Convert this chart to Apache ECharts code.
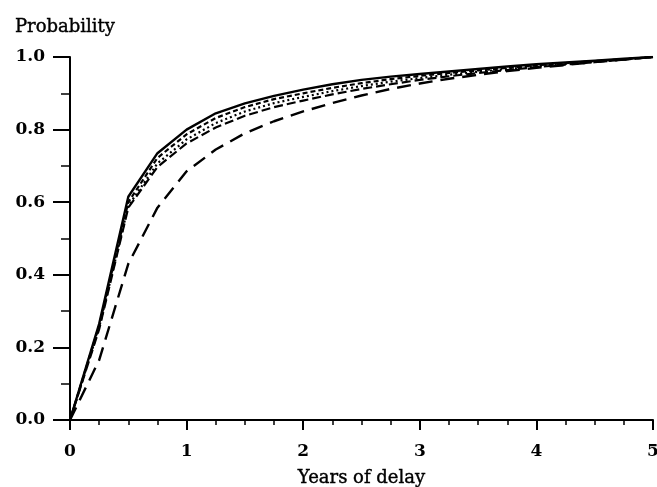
<!DOCTYPE html>
<html>
<head>
<meta charset="utf-8">
<script src="https://cdn.jsdelivr.net/npm/echarts@6/dist/echarts.min.js"></script>
<style>
html,body{margin:0;padding:0;background:#fff;}
#chart{width:657px;height:487px;}
</style>
</head>
<body>
<div id="chart"></div>
<script>
const years = [0, 0.25, 0.5, 0.75, 1, 1.25, 1.5, 1.75, 2, 2.25, 2.5, 2.75, 3, 3.25, 3.5, 3.75, 4, 4.25, 4.5, 4.75, 5];
const solidLine  = [0, 0.265, 0.615, 0.735, 0.800, 0.845, 0.872, 0.893, 0.910, 0.925, 0.937, 0.946, 0.953, 0.960, 0.967, 0.974, 0.980, 0.985, 0.990, 0.995, 1.0];
const shortDash  = [0, 0.260, 0.600, 0.722, 0.787, 0.832, 0.862, 0.884, 0.900, 0.915, 0.928, 0.939, 0.948, 0.956, 0.963, 0.970, 0.977, 0.983, 0.989, 0.994, 1.0];
const dotted     = [0, 0.255, 0.590, 0.707, 0.773, 0.818, 0.850, 0.873, 0.890, 0.906, 0.920, 0.932, 0.942, 0.951, 0.959, 0.967, 0.974, 0.981, 0.987, 0.993, 1.0];
const mediumDash = [0, 0.250, 0.585, 0.697, 0.762, 0.806, 0.838, 0.862, 0.880, 0.897, 0.912, 0.925, 0.937, 0.947, 0.956, 0.964, 0.972, 0.979, 0.986, 0.993, 1.0];
const longDash   = [0, 0.165, 0.430, 0.585, 0.685, 0.745, 0.790, 0.823, 0.850, 0.873, 0.894, 0.912, 0.927, 0.940, 0.951, 0.961, 0.970, 0.978, 0.986, 0.993, 1.0];

const FONT = 'DejaVu Serif';
function pairs(ys){ return years.map((x,i)=>[x, ys[i]]); }
function line(name, ys, type, w){
  return {
    name, type:'line', data: pairs(ys), symbol:'none', smooth:false,
    lineStyle:{color:'#000', width:w||2.2, type:type}, animation:false
  };
}
const chart = echarts.init(document.getElementById('chart'));
chart.setOption({
  backgroundColor:'#fff',
  animation:false,
  title:{text:'Probability', left:10, top:13,
    textStyle:{fontFamily:FONT, fontSize:18, fontWeight:'normal', color:'#000', textBorderColor:'#000', textBorderWidth:0.4}},
  grid:{left:70, right:4, top:57, bottom:67, containLabel:false, outerBoundsMode:'none'},
  xAxis:{
    type:'value', min:0, max:5, interval:1,
    name:'Years of delay', nameLocation:'middle', nameGap:49,
    nameTextStyle:{fontFamily:FONT, fontSize:18, color:'#000', textBorderColor:'#000', textBorderWidth:0.4},
    axisLine:{show:true, lineStyle:{color:'#000', width:2}},
    axisTick:{show:true, inside:false, length:10, lineStyle:{color:'#000', width:2}},
    minorTick:{show:true, splitNumber:4, length:5, lineStyle:{color:'#000', width:1.5}},
    splitLine:{show:false},
    axisLabel:{fontFamily:FONT, fontSize:17, fontWeight:'bold', color:'#000', margin:23}
  },
  yAxis:{
    type:'value', min:0, max:1, interval:0.2,
    axisLine:{show:true, lineStyle:{color:'#000', width:2}},
    axisTick:{show:true, inside:false, length:17, lineStyle:{color:'#000', width:2}},
    minorTick:{show:true, splitNumber:2, length:9, lineStyle:{color:'#000', width:1.5}},
    splitLine:{show:false},
    axisLabel:{fontFamily:FONT, fontSize:17, fontWeight:'bold', color:'#000', margin:25,
      formatter:v=>v.toFixed(1)}
  },
  series:[
    line('solid', solidLine, 'solid', 2.4),
    line('short dash', shortDash, [5,3]),
    line('dotted', dotted, [2,3]),
    line('medium dash', mediumDash, [9,4]),
    line('long dash', longDash, [14,8], 2.4)
  ]
});
</script>
</body>
</html>
